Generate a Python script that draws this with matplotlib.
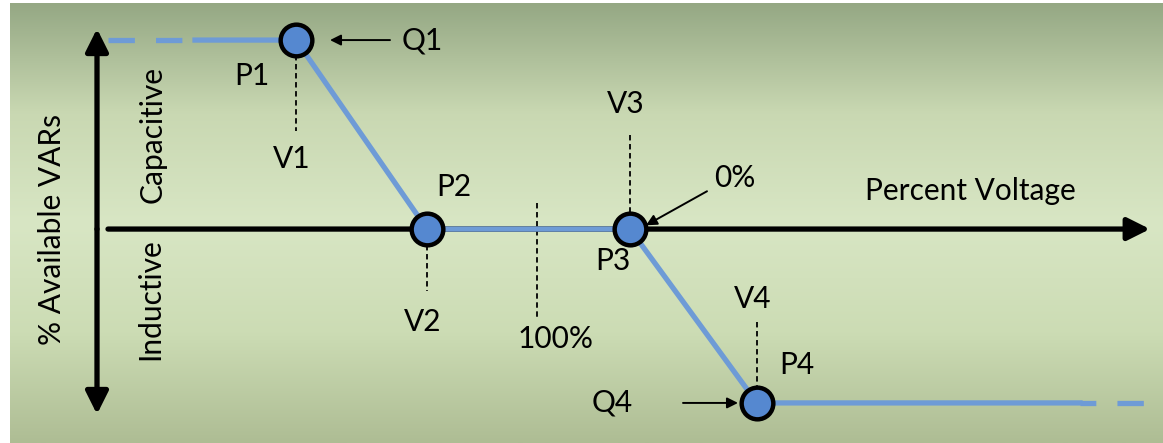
import numpy as np
import matplotlib.pyplot as plt
from matplotlib.colors import LinearSegmentedColormap

plt.rcParams['font.family'] = ['Lato', 'DejaVu Sans']

# volt-var curve points (x: voltage scale, y: % available VARs)
point_labels = ['P1', 'P2', 'P3', 'P4']
volt_pts = [296, 427, 630, 757]
var_pts = [100, 0, 0, -92]
v_labels = ['V1', 'V2', 'V3', 'V4']
nominal_v = 537
x_start, x_end = 108, 1150

blue = '#6e9bd6'
fill = '#5588d0'
FS = 21.5

fig = plt.figure(figsize=(11.63, 4.43), dpi=100)
ax = fig.add_axes([0, 0, 1, 1])
ax.set_xlim(0, 1163)
ax.set_ylim(-113.2, 121.2)
ax.axis('off')

# background gradient (dark at top, light middle, darker bottom)
bg = LinearSegmentedColormap.from_list('bg', ['#95a884', '#c9d8b2', '#d8e6c4', '#ccdcb4', '#aebd94'])
grad = np.linspace(0, 1, 256).reshape(-1, 1)
ax.imshow(grad, cmap=bg, aspect='auto', extent=[10, 1163, -113.2, 119.6], zorder=0)

# axes arrows
arr = dict(arrowstyle='-|>', lw=3.8, color='black', mutation_scale=34, shrinkA=0, shrinkB=0)
ax.annotate('', xy=(97, 106), xytext=(97, 0), arrowprops=arr)
ax.annotate('', xy=(97, -98), xytext=(97, 0), arrowprops=arr)
ax.annotate('', xy=(x_end, 0), xytext=(x_start, 0), arrowprops=arr)

# curve
ax.plot([x_start, 195], [var_pts[0]] * 2, color=blue, lw=3.8, ls=(0, (5, 4)), zorder=3)
ax.plot([195] + volt_pts + [1080], [var_pts[0]] + var_pts + [var_pts[-1]], color=blue, lw=3.8, zorder=3)
ax.plot([1080, 1150], [var_pts[-1]] * 2, color=blue, lw=3.8, ls=(2, (5, 4)), zorder=3)
ax.scatter(volt_pts, var_pts, s=520, facecolor=fill, edgecolor='black', linewidth=3.2, zorder=5)

# dashed voltage markers (top, bottom of each dashed line)
v_dash = [(92, 52), (-8.5, -33), (50, 6), (-49, -85)]
v_text_y = [37, -49, 66, -37]
dash = dict(color='black', lw=1.3, ls=(0, (3, 2)), zorder=2)
for x, (y0, y1), ty, lab in zip(volt_pts, v_dash, v_text_y, v_labels):
    ax.plot([x, x], [y0, y1], **dash)
    ax.text(x - 4, ty, lab, fontsize=FS, ha='center', va='center')
ax.plot([nominal_v, nominal_v], [14, -48], **dash)
ax.text(556, -58, '100%', fontsize=FS, ha='center', va='center')

# point labels
pl_pos = [(252, 81), (454, 22), (613, -17), (797, -72)]
for lab, (x, y) in zip(point_labels, pl_pos):
    ax.text(x, y, lab, fontsize=FS, ha='center', va='center')

# Q annotations
small = dict(arrowstyle='-|>', lw=1.4, color='black', mutation_scale=16, shrinkA=0, shrinkB=0)
ax.annotate('', xy=(330, var_pts[0]), xytext=(390, var_pts[0]), arrowprops=small)
ax.text(422, var_pts[0], 'Q1', fontsize=FS, ha='center', va='center')
ax.annotate('', xy=(738, var_pts[-1]), xytext=(683, var_pts[-1]), arrowprops=small)
ax.text(612, var_pts[-1], 'Q4', fontsize=FS, ha='center', va='center')
ax.annotate('', xy=(646, 2), xytext=(707, 20), arrowprops=small)
ax.text(735, 27, '0%', fontsize=FS, ha='center', va='center')

# axis labels
ax.text(970, 20, 'Percent Voltage', fontsize=FS, ha='center', va='center')
ax.text(52, 0, '% Available VARs', fontsize=FS, ha='center', va='center', rotation=90)
ax.text(153, 50, 'Capacitive', fontsize=FS, ha='center', va='center', rotation=90)
ax.text(150, -37, 'Inductive', fontsize=FS, ha='center', va='center', rotation=90)

fig.savefig('out.png', dpi=100, facecolor='white')
